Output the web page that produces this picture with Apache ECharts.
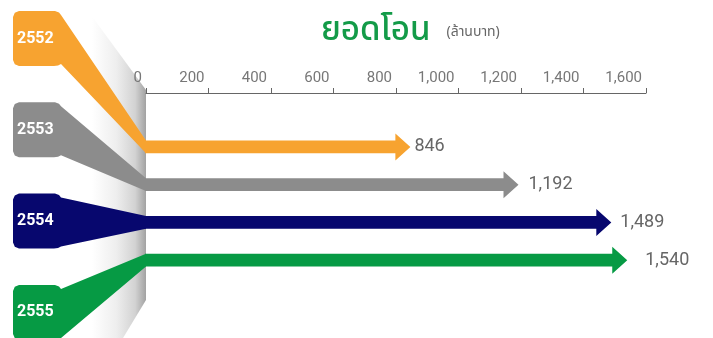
<!DOCTYPE html>
<html><head><meta charset="utf-8">
<script src="https://cdn.jsdelivr.net/npm/echarts@6/dist/echarts.min.js"></script>
<style>html,body{margin:0;padding:0;background:#fff}#c{width:713px;height:338px}</style>
</head><body><div id="c"></div>
<script>
const categories = ['2552', '2553', '2554', '2555'];
const values = [846, 1192, 1489, 1540];
const tickLabels = ['0', '200', '400', '600', '800', '1,000', '1,200', '1,400', '1,600'];
const colors = ['#F7A330', '#8C8C8C', '#07076E', '#069A44'];
const titleText = 'ยอดโอน';
const unitText = '(ล้านบาท)';
const labelGap = [4, 10, 9, 18];

const chart = echarts.init(document.getElementById('c'));

const option = {
  animation: false,
  title: {
    left: 316, top: 12,
    text: '{a|' + titleText + '}  {b|' + unitText + '}',
    textStyle: {
      fontWeight: 'normal',
      rich: {
        a: { fontFamily: 'Noto Sans Thai, Noto Sans, sans-serif', fontSize: 33, fontWeight: 500, color: '#139B48' },
        b: { fontFamily: 'Noto Sans Thai, Noto Sans, sans-serif', fontSize: 14, fontWeight: 'normal', color: '#666', padding: [0, 0, 0, 6] }
      }
    }
  },
  graphic: [{
    type: 'polygon', z: -10, silent: true,
    shape: { points: [[80, 0], [146, 90], [146, 300], [123, 338], [60, 338], [60, 0]] },
    style: {
      fill: { type: 'linear', x: 92, y: 0, x2: 146, y2: 0, global: true,
        colorStops: [{ offset: 0, color: '#ffffff' }, { offset: 0.45, color: '#eeeeee' },
                     { offset: 0.8, color: '#d2d2d2' }, { offset: 1, color: '#a2a2a2' }] }
    }
  }],
  grid: { left: 146, right: 67, top: 128, bottom: 59 },
  xAxis: {
    type: 'value', position: 'top', offset: 35, min: 0, max: 1600, interval: 200,
    axisLine: { show: true, lineStyle: { color: '#666', width: 1 } },
    axisTick: { show: true, length: 5, lineStyle: { color: '#666' } },
    splitLine: { show: false },
    axisLabel: {
      color: '#777', fontSize: 15, fontFamily: 'Roboto', margin: 7, align: 'right',
      formatter: function (v) { return '{v|' + tickLabels[Math.round(v / 200)] + '}{g|}'; },
      rich: { v: { color: '#777', fontSize: 15, fontFamily: 'Roboto' }, g: { width: 4 } }
    }
  },
  yAxis: { type: 'category', data: categories, inverse: true, show: false },
  series: [{
    type: 'custom',
    data: values.map((v, i) => [v, i]),
    encode: { x: 0, y: 1 },
    renderItem: function (params, api) {
      const i = api.value(1);
      const v = api.value(0);
      const s = api.coord([0, i]);
      const e = api.coord([v, i]);
      const x0 = s[0], cy = s[1], tip = e[0];
      const hb = 6.3, hh = 13.5, hl = 15;
      const col = colors[i];
      const top = 11 + i * 91.3, bot = top + 55, L = 13, R = 58, r = 6;
      const tabPts = [
        [L, top + r], [L + 1.8, top + 1.8], [L + r, top],
        [R - 3, top], [R + 1, top + 1.5], [R + 3, top + 4],
        [x0, cy - hb], [x0, cy + hb],
        [R + 3, bot - 2], [R, bot - 0.5], [R - 4, bot],
        [L + r, bot], [L + 1.8, bot - 1.8], [L, bot - r]
      ];
      return {
        type: 'group',
        children: [
          { type: 'polygon', shape: { points: tabPts }, style: { fill: col } },
          { type: 'text', style: { x: 17, y: top + 27.5, text: categories[i], fill: '#fff',
              font: 'bold 16px Roboto', verticalAlign: 'middle', align: 'left' } },
          { type: 'polygon', shape: { points: [
              [x0 - 1, cy - hb], [tip - hl, cy - hb], [tip - hl, cy - hh], [tip, cy],
              [tip - hl, cy + hh], [tip - hl, cy + hb], [x0 - 1, cy + hb]] },
            style: { fill: col } },
          { type: 'text', style: { x: tip + labelGap[i], y: cy, text: v.toLocaleString('en-US'),
              fill: '#666', font: '18px Roboto', verticalAlign: 'middle', align: 'left' } }
        ]
      };
    }
  }]
};
chart.setOption(option);
</script></body></html>
